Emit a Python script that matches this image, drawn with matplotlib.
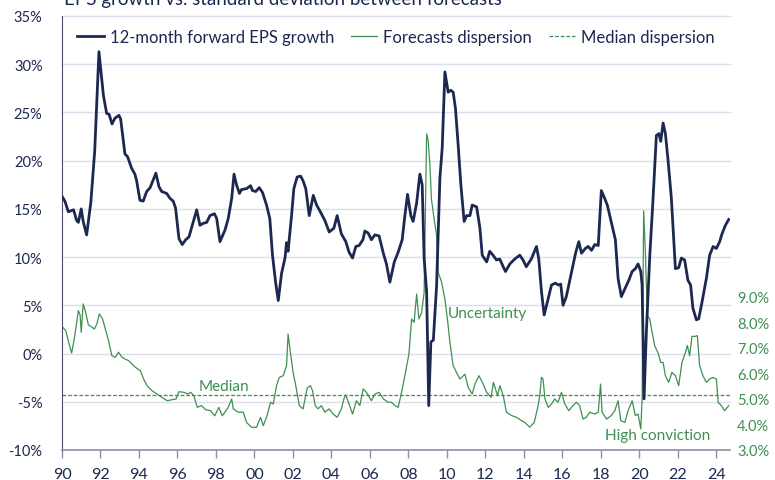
"""
EPS growth vs. standard deviation between forecasts
双轴折线图：左轴为12个月远期EPS增速，右轴为分析师预测离散度
"""

import matplotlib
matplotlib.use("Agg")
import matplotlib.pyplot as plt
from matplotlib.lines import Line2D
from matplotlib.ticker import FuncFormatter

plt.rcParams['font.family'] = ['Lato', 'DejaVu Sans']

NAVY = '#1c2850'
GREEN = '#3f8f52'
GRID = '#dcdeeb'

# ---- 数据----
eps_years = [
    1990.0, 1990.15, 1990.33, 1990.6, 1990.76, 1990.85, 1991.0, 1991.1, 1991.28, 1991.5,
    1991.7, 1991.92, 1992.15, 1992.32, 1992.45, 1992.6, 1992.75, 1992.96, 1993.05, 1993.27,
    1993.41, 1993.62, 1993.79, 1993.88, 1994.05, 1994.22, 1994.4, 1994.58, 1994.72, 1994.88,
    1995.04, 1995.18, 1995.44, 1995.61, 1995.78, 1995.9, 1996.08, 1996.25, 1996.43, 1996.6,
    1996.77, 1997.0, 1997.17, 1997.34, 1997.52, 1997.69, 1997.92, 1998.04, 1998.21, 1998.47,
    1998.64, 1998.82, 1998.94, 1999.07, 1999.22, 1999.33, 1999.59, 1999.8, 1999.9, 2000.07,
    2000.25, 2000.42, 2000.63, 2000.8, 2000.94, 2001.1, 2001.24, 2001.41, 2001.59, 2001.67,
    2001.75, 2001.93, 2002.05, 2002.22, 2002.4, 2002.53, 2002.67, 2002.85, 2003.06, 2003.23,
    2003.4, 2003.66, 2003.89, 2004.13, 2004.3, 2004.52, 2004.75, 2004.92, 2005.1, 2005.27,
    2005.44, 2005.64, 2005.74, 2005.91, 2006.08, 2006.26, 2006.48, 2006.7, 2006.86, 2007.04,
    2007.27, 2007.47, 2007.68, 2007.82, 2007.96, 2008.13, 2008.25, 2008.43, 2008.6, 2008.72,
    2008.82, 2008.95, 2009.06, 2009.17, 2009.3, 2009.47, 2009.64, 2009.76, 2009.9, 2010.07,
    2010.2, 2010.33, 2010.45, 2010.59, 2010.73, 2010.9, 2011.03, 2011.2, 2011.32, 2011.55,
    2011.72, 2011.84, 2012.07, 2012.23, 2012.4, 2012.58, 2012.75, 2012.93, 2013.05, 2013.28,
    2013.53, 2013.79, 2013.96, 2014.13, 2014.39, 2014.66, 2014.78, 2014.92, 2015.06, 2015.23,
    2015.44, 2015.64, 2015.8, 2015.92, 2016.04, 2016.21, 2016.39, 2016.56, 2016.69, 2016.86,
    2017.0, 2017.2, 2017.35, 2017.52, 2017.69, 2017.87, 2018.03, 2018.2, 2018.34, 2018.55,
    2018.76, 2018.9, 2019.07, 2019.25, 2019.46, 2019.63, 2019.8, 2019.94, 2020.08, 2020.15,
    2020.25, 2020.37, 2020.55, 2020.72, 2020.89, 2021.02, 2021.12, 2021.24, 2021.36, 2021.5,
    2021.67, 2021.88, 2022.05, 2022.19, 2022.36, 2022.53, 2022.67, 2022.79, 2022.97, 2023.09,
    2023.26, 2023.49, 2023.66, 2023.84, 2024.01, 2024.18, 2024.3, 2024.48, 2024.65,
]
eps_growth = [
    16.3, 15.8, 14.7, 14.9, 13.8, 13.6, 15.0, 13.7, 12.3, 15.7,
    21.0, 31.3, 26.8, 24.9, 24.8, 23.8, 24.4, 24.7, 24.3, 20.7,
    20.4, 19.2, 18.6, 17.9, 15.9, 15.8, 16.8, 17.2, 17.9, 18.7,
    17.3, 16.8, 16.6, 16.1, 15.8, 15.1, 11.9, 11.3, 11.8, 12.1,
    13.3, 14.9, 13.3, 13.5, 13.6, 14.3, 14.5, 14.0, 11.6, 12.8,
    14.0, 16.1, 18.6, 17.5, 16.6, 17.0, 17.1, 17.4, 16.9, 16.8,
    17.2, 16.7, 15.4, 14.0, 10.2, 7.4, 5.5, 8.3, 9.9, 11.5,
    10.6, 14.3, 17.1, 18.3, 18.4, 17.9, 17.1, 14.3, 16.4, 15.4,
    14.8, 13.8, 12.6, 13.0, 14.3, 12.4, 11.6, 10.5, 9.9, 11.1,
    11.2, 11.8, 12.7, 12.5, 11.8, 12.3, 12.2, 10.4, 9.3, 7.4,
    9.5, 10.5, 11.8, 14.3, 16.5, 14.3, 13.7, 15.6, 18.6, 17.5,
    9.9, 6.4, -5.4, 1.2, 1.4, 7.1, 18.2, 21.3, 29.2, 27.1,
    27.3, 27.1, 25.4, 21.6, 17.5, 13.7, 14.3, 14.3, 15.4, 15.2,
    13.0, 10.2, 9.5, 10.6, 10.2, 9.7, 9.8, 9.0, 8.5, 9.3,
    9.8, 10.2, 9.7, 9.0, 9.8, 11.1, 9.8, 6.4, 4.0, 5.4,
    7.1, 7.3, 7.1, 7.2, 5.0, 5.9, 7.6, 9.2, 10.4, 11.6,
    10.4, 10.9, 11.1, 10.7, 11.3, 11.2, 16.9, 16.1, 15.4, 13.6,
    11.8, 7.8, 5.9, 6.7, 7.6, 8.5, 8.8, 9.3, 8.5, 7.1,
    -4.7, 2.2, 10.2, 16.1, 22.6, 22.8, 22.0, 23.9, 22.8, 20.0,
    16.1, 8.8, 8.9, 9.9, 9.7, 7.6, 7.1, 4.7, 3.5, 3.6,
    5.3, 7.8, 10.2, 11.1, 10.9, 11.6, 12.4, 13.3, 13.9,
]

disp_years = [
    1990.0, 1990.2, 1990.37, 1990.5, 1990.64, 1990.85, 1990.94, 1991.0, 1991.1, 1991.23,
    1991.37, 1991.5, 1991.68, 1991.81, 1991.94, 1992.11, 1992.25, 1992.42, 1992.59, 1992.77,
    1992.94, 1993.12, 1993.29, 1993.46, 1993.64, 1993.81, 1994.07, 1994.24, 1994.42, 1994.68,
    1994.94, 1995.2, 1995.46, 1995.72, 1995.93, 1996.07, 1996.33, 1996.55, 1996.68, 1996.85,
    1997.03, 1997.25, 1997.46, 1997.72, 1997.94, 1998.15, 1998.33, 1998.47, 1998.64, 1998.82,
    1998.9, 1999.16, 1999.42, 1999.59, 1999.85, 2000.11, 2000.32, 2000.46, 2000.66, 2000.84,
    2000.98, 2001.15, 2001.29, 2001.5, 2001.67, 2001.75, 2001.88, 2002.01, 2002.15, 2002.33,
    2002.53, 2002.74, 2002.91, 2003.02, 2003.16, 2003.31, 2003.48, 2003.66, 2003.88, 2004.09,
    2004.3, 2004.52, 2004.65, 2004.75, 2004.92, 2005.1, 2005.3, 2005.48, 2005.65, 2005.82,
    2006.08, 2006.26, 2006.48, 2006.7, 2006.95, 2007.12, 2007.3, 2007.47, 2007.65, 2007.82,
    2008.03, 2008.17, 2008.3, 2008.43, 2008.55, 2008.69, 2008.82, 2008.95, 2009.03, 2009.12,
    2009.2, 2009.34, 2009.47, 2009.55, 2009.73, 2009.9, 2010.07, 2010.16, 2010.33, 2010.5,
    2010.68, 2010.94, 2011.11, 2011.32, 2011.46, 2011.67, 2011.89, 2012.07, 2012.3, 2012.42,
    2012.64, 2012.76, 2012.93, 2013.1, 2013.36, 2013.62, 2013.88, 2014.05, 2014.31, 2014.54,
    2014.71, 2014.83, 2014.92, 2015.0, 2015.1, 2015.27, 2015.44, 2015.61, 2015.78, 2015.96,
    2016.13, 2016.34, 2016.56, 2016.73, 2016.9, 2017.08, 2017.25, 2017.43, 2017.69, 2017.87,
    2017.99, 2018.07, 2018.3, 2018.55, 2018.73, 2018.9, 2019.04, 2019.25, 2019.42, 2019.63,
    2019.8, 2019.94, 2020.08, 2020.15, 2020.23, 2020.32, 2020.42, 2020.55, 2020.67, 2020.8,
    2020.97, 2021.12, 2021.24, 2021.36, 2021.53, 2021.7, 2021.88, 2022.05, 2022.22, 2022.4,
    2022.5, 2022.62, 2022.74, 2022.91, 2023.02, 2023.14, 2023.31, 2023.49, 2023.66, 2023.84,
    2024.01, 2024.1, 2024.27, 2024.44, 2024.65,
]
disp_values = [
    7.84, 7.67, 7.15, 6.80, 7.35, 8.46, 8.29, 7.61, 8.72, 8.40,
    7.90, 7.84, 7.74, 7.93, 8.33, 8.13, 7.74, 7.28, 6.69, 6.63,
    6.83, 6.63, 6.56, 6.50, 6.37, 6.24, 6.11, 5.78, 5.52, 5.32,
    5.19, 5.06, 4.93, 4.97, 5.00, 5.28, 5.26, 5.19, 5.26, 5.13,
    4.67, 4.74, 4.58, 4.54, 4.34, 4.67, 4.34, 4.48, 4.67, 5.00,
    4.61, 4.48, 4.48, 4.08, 3.89, 3.89, 4.28, 3.95, 4.35, 4.87,
    4.80, 5.52, 5.84, 5.91, 6.30, 7.54, 6.76, 6.04, 5.52, 4.74,
    4.61, 5.42, 5.52, 5.32, 4.74, 4.61, 4.74, 4.48, 4.61, 4.41,
    4.28, 4.61, 5.00, 5.16, 4.80, 4.41, 4.93, 4.74, 5.39, 5.26,
    4.93, 5.19, 5.26, 5.00, 4.87, 4.87, 4.74, 4.67, 5.26, 5.91,
    6.76, 8.13, 8.00, 9.11, 8.13, 8.39, 9.17, 15.38, 15.12, 14.20,
    12.83, 12.05, 11.40, 9.96, 9.57, 8.91, 7.87, 7.22, 6.30, 6.04,
    5.78, 5.97, 5.45, 5.19, 5.58, 5.91, 5.58, 5.26, 5.06, 5.65,
    5.13, 5.52, 5.13, 4.48, 4.35, 4.28, 4.15, 4.08, 3.89, 4.08,
    4.61, 5.13, 5.85, 5.78, 5.00, 4.67, 4.80, 5.00, 4.87, 5.26,
    4.80, 4.54, 4.74, 4.87, 4.74, 4.21, 4.28, 4.48, 4.41, 4.48,
    5.58, 4.48, 4.21, 4.35, 4.54, 4.93, 4.15, 4.08, 4.54, 4.93,
    4.35, 4.41, 3.82, 4.98, 12.37, 10.73, 8.26, 8.13, 7.61, 7.09,
    6.82, 6.43, 6.43, 5.91, 5.65, 6.04, 5.91, 5.52, 6.43, 6.82,
    7.09, 6.69, 7.45, 7.45, 7.48, 6.30, 5.91, 5.65, 5.78, 5.84,
    5.78, 4.87, 4.74, 4.54, 4.74,
]

median_dispersion = 5.15

x_ticks = list(range(1990, 2025, 2))
x_tick_labels = [f"{y % 100:02d}" for y in x_ticks]
left_ticks = list(range(-10, 36, 5))
right_ticks = [3, 4, 5, 6, 7, 8, 9]

# ---- 绘图 ----
fig = plt.figure(figsize=(7.75, 4.81), dpi=100)
ax = fig.add_axes([0.080, 0.0624, 0.862, 0.9023])
ax2 = ax.twinx()

# EPS 线放在上层
ax.set_zorder(ax2.get_zorder() + 1)
ax.patch.set_visible(False)

ax.plot(eps_years, eps_growth, color=NAVY, lw=2.0, solid_joinstyle='round', zorder=3)
ax2.plot(disp_years, disp_values, color=GREEN, lw=0.9, zorder=2)
ax2.axhline(median_dispersion, color=GREEN, lw=0.9, ls=(0, (3, 1.5)), zorder=2)

# 左轴
ax.set_ylim(-10, 35)
ax.set_yticks(left_ticks)
ax.yaxis.set_major_formatter(FuncFormatter(lambda v, _: f"{v:.0f}%"))
ax.tick_params(axis='y', length=0, labelsize=10.5, labelcolor=NAVY, pad=14)
# 网格线画在底层坐标轴上，避免压住折线
for v in left_ticks[1:]:
    ax2.axhline(3 + (v + 10) * 17 / 45, color=GRID, lw=1.0, zorder=0, clip_on=False)

# 右轴
ax2.set_ylim(3, 20)
ax2.set_yticks(right_ticks)
ax2.yaxis.set_major_formatter(FuncFormatter(lambda v, _: f"{v:.1f}%"))
ax2.tick_params(axis='y', length=0, labelsize=10.5, labelcolor=GREEN, pad=5)

# X 轴
ax.set_xlim(1990, 2024.72)
ax.set_xticks(x_ticks)
ax.set_xticklabels(x_tick_labels)
ax.tick_params(axis='x', direction='out', length=6, width=1, color='#8c90a8',
               labelsize=11.5, labelcolor=NAVY, pad=6)

for a in (ax, ax2):
    a.spines['right'].set_visible(False)
    a.spines['top'].set_visible(False)
ax2.spines['left'].set_visible(False)
ax2.spines['bottom'].set_visible(False)
ax.spines['left'].set_color('#4a5070')
ax.spines['bottom'].set_color('#8c90a8')
ax.spines['bottom'].set_linewidth(1.2)

# 文字标注
ax.text(2012.1, 4.2, 'Uncertainty', color=GREEN, fontsize=11, ha='center', va='center')
ax.text(1998.4, -3.4, 'Median', color=GREEN, fontsize=11, ha='center', va='center')
ax.text(2020.95, -8.4, 'High conviction', color=GREEN, fontsize=11, ha='center', va='center')

# 图例
handles = [
    Line2D([], [], color=NAVY, lw=2.0),
    Line2D([], [], color=GREEN, lw=0.9),
    Line2D([], [], color=GREEN, lw=0.9, ls=(0, (3, 1.5))),
]
labels = ['12-month forward EPS growth', 'Forecasts dispersion', 'Median dispersion']
leg = ax.legend(handles, labels, loc='upper center', bbox_to_anchor=(0.5, 1.005), ncol=3,
                frameon=False, fontsize=12, handlelength=1.6, handletextpad=0.35,
                columnspacing=1.0)
for t in leg.get_texts():
    t.set_color(NAVY)

# 标题（原图顶部被裁切）
fig.text(0.082, 0.990, 'EPS growth vs. standard deviation between forecasts',
         color=NAVY, fontsize=13.5, ha='left', va='baseline')

fig.savefig('out.png', dpi=100)
